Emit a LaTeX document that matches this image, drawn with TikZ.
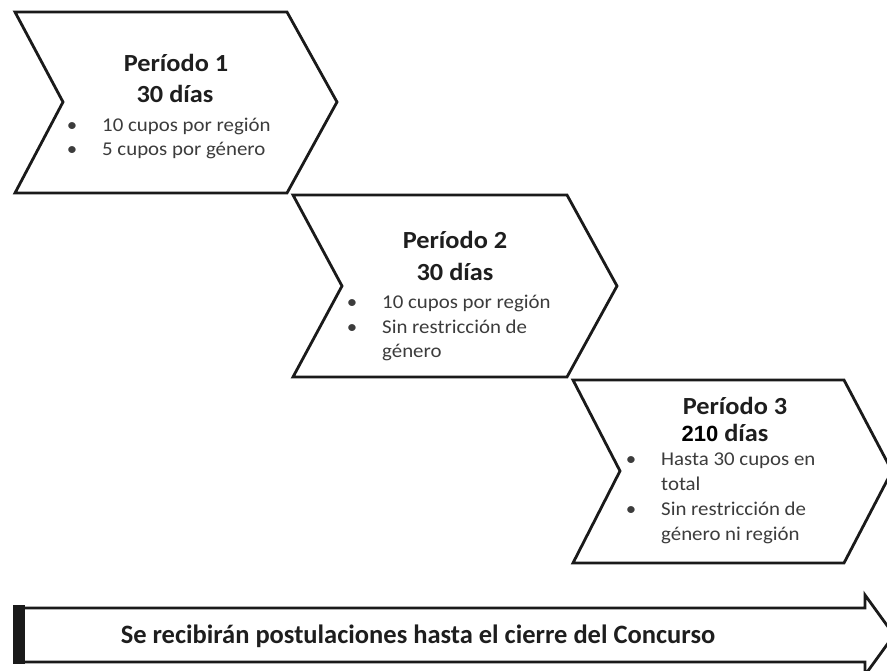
\documentclass[tikz,border=0pt]{standalone}
\usepackage{fontspec}
\setmainfont{Carlito}[FakeStretch=1.07]
\newfontfamily\bottomfont{Carlito}
\newfontfamily\arialfont{Liberation Sans}
\definecolor{titlecol}{HTML}{1E1E1E}
\definecolor{bulletcol}{HTML}{3C3C3C}
\definecolor{linecol}{HTML}{1A1A1A}
\tikzset{
  chev/.style={draw=linecol, line width=2.8pt, fill=white, line join=miter},
  ttl/.style={anchor=base, inner sep=0pt, text=titlecol, font=\fontsize{24.6}{28}\selectfont\bfseries},
  btxt/.style={anchor=base west, inner sep=0pt, text=bulletcol, font=\fontsize{19.5}{23}\selectfont},
  bdot/.style={anchor=base, inner sep=0pt, text=bulletcol, font=\fontsize{19.5}{23}\selectfont},
  arrowline/.style={draw=linecol, line width=2.8pt, fill=white, line join=miter}
}
\begin{document}
\begin{tikzpicture}[x=1pt,y=-1pt]
\useasboundingbox (0,0) rectangle (887,670);
\clip (0,0) rectangle (887,670);
\fill[white] (0,0) rectangle (887,670);
% chevrons
\draw[chev] (15,12) -- (287,12) -- (337,102) -- (287,193) -- (15,193) -- (63,102) -- cycle;
\draw[chev] (293,195) -- (567,195) -- (617,286) -- (567,377) -- (293,377) -- (342,286) -- cycle;
\draw[chev] (573,380) -- (844,380) -- (892,471) -- (844,563) -- (573,563) -- (620,471) -- cycle;
% period 1
\node[ttl] (t1) at (176,71) {Período 1};
\node[ttl] (d1) at (175,102) {30 días};
\node[bdot] (b1a) at (72,131) {•};
\node[btxt] (l1a) at (102,131) {10 cupos por región};
\node[bdot] (b1b) at (72,155) {•};
\node[btxt] (l1b) at (102,155) {5 cupos por género};
% period 2
\node[ttl] (t2) at (455,248) {Período 2};
\node[ttl] (d2) at (455,280) {30 días};
\node[bdot] (b2a) at (352,308) {•};
\node[btxt] (l2a) at (382,308) {10 cupos por región};
\node[bdot] (b2b) at (352,333) {•};
\node[btxt] (l2b) at (382,333) {Sin restricción de};
\node[btxt] (l2c) at (382,357) {género};
% period 3
\node[ttl] (t3) at (735,414) {Período 3};
\node[ttl] (d3) at (725,441) {{\arialfont\fontsize{22}{26}\selectfont\bfseries\color{black}210} días};
\node[bdot] (b3a) at (631,465) {•};
\node[btxt] (l3a) at (661,465) {Hasta 30 cupos en};
\node[btxt] (l3b) at (661,490) {total};
\node[bdot] (b3b) at (631,515) {•};
\node[btxt] (l3c) at (661,515) {Sin restricción de};
\node[btxt] (l3d) at (661,540) {género ni región};
% bottom arrow
\draw[arrowline] (20,608) -- (865,608) -- (865,595) -- (894,635) -- (865,675) -- (865,662) -- (20,662) -- cycle;
\fill[linecol] (13,605) rectangle (25,664);
\node[anchor=base, inner sep=0pt, text=titlecol, font=\bottomfont\fontsize{26.5}{30}\selectfont\bfseries] (bt) at (418,643) {Se recibirán postulaciones hasta el cierre del Concurso};
\end{tikzpicture}
\end{document}
